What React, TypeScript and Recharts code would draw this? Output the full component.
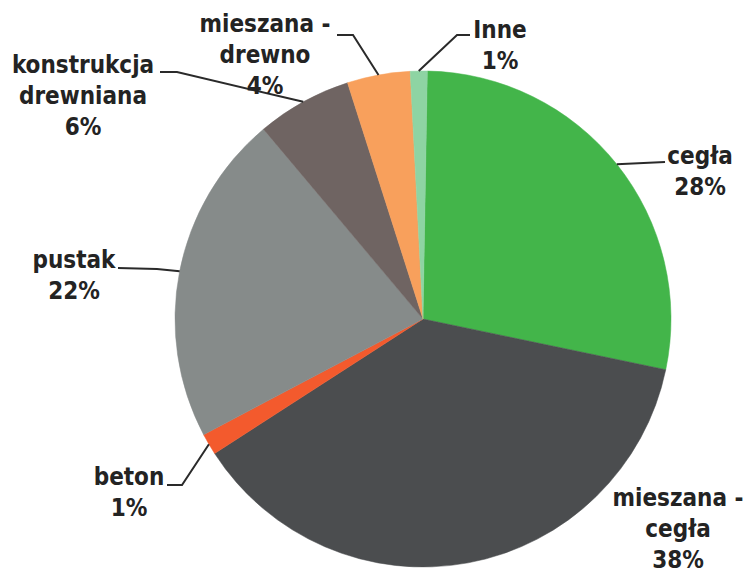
import { PieChart, Pie, Cell } from 'recharts'

const CATEGORIES = [
  'cegła',
  'mieszana - cegła',
  'beton',
  'pustak',
  'konstrukcja drewniana',
  'mieszana - drewno',
  'Inne',
]
const SHARES = [28.0, 37.6, 1.4, 21.6, 6.2, 4.1, 1.1]
const COLORS = ['#43b54a', '#4b4d4f', '#f35a2d', '#868b8a', '#6f6462', '#f8a05c', '#8ed4a3']

// label placement relative to pie centre: text block centre + baseline, optional leader (elbow, text end)
const LABEL_LAYOUT = [
  { tx: 277, ty: -155, elbow: [242, -157], end: [242, -157] },
  { tx: 255, ty: 187, elbow: null, end: null },
  { tx: -294, ty: 166, elbow: [-241, 166], end: [-256, 166] },
  { tx: -349, ty: -51, elbow: [-266, -50], end: [-305, -51] },
  { tx: -340, ty: -246, elbow: [-246, -247], end: [-263, -247] },
  { tx: -158, ty: -287, elbow: [-70, -284], end: [-86, -284] },
  { tx: 77, ty: -281, elbow: [34, -284], end: [47, -284] },
]

const data = CATEGORIES.map((name, i) => ({ name, value: SHARES[i] }))

const RADIAN = Math.PI / 180
const FONT = "'DejaVu Sans Condensed', 'DejaVu Sans', sans-serif"

function splitName(name: string) {
  if (name.includes(' - ')) {
    const [a, b] = name.split(' - ')
    return [a + ' -', b]
  }
  return name.split(' ')
}

function renderLabel(props: any) {
  const { cx, cy, midAngle, outerRadius, index, percent } = props
  const layout = LABEL_LAYOUT[index]
  if (!layout) return null
  const lines = [...splitName(CATEGORIES[index]), Math.round(percent * 100) + '%']
  const px = cx + outerRadius * Math.cos(-midAngle * RADIAN)
  const py = cy + outerRadius * Math.sin(-midAngle * RADIAN)
  return (
    <g key={'lbl' + index}>
      {layout.elbow && layout.end && (
        <polyline
          points={`${px},${py} ${cx + layout.elbow[0]},${cy + layout.elbow[1]} ${cx + layout.end[0]},${cy + layout.end[1]}`}
          fill="none"
          stroke="#2a2a2a"
          strokeWidth={2}
        />
      )}
      <text
        x={cx + layout.tx}
        y={cy + layout.ty}
        textAnchor="middle"
        fill="#232323"
        style={{ fontFamily: FONT, fontWeight: 'bold', fontSize: 24, fontStretch: 'condensed' }}
      >
        {lines.map((line, i) => (
          <tspan key={i} x={cx + layout.tx} dy={i === 0 ? 0 : 31}>
            {line}
          </tspan>
        ))}
      </text>
    </g>
  )
}

export default function App() {
  return (
    <div style={{ position: 'absolute', left: 0, top: 0, background: '#fff' }}>
      <PieChart width={748} height={573} margin={{ top: 0, right: 0, bottom: 0, left: 0 }}>
        <Pie
          data={data}
          dataKey="value"
          nameKey="name"
          cx={423}
          cy={319}
          outerRadius={248}
          startAngle={89}
          endAngle={-271}
          label={renderLabel}
          labelLine={false}
          isAnimationActive={false}
        >
          {data.map((d, i) => (
            <Cell key={d.name} fill={COLORS[i]} stroke={COLORS[i]} strokeWidth={0.5} />
          ))}
        </Pie>
      </PieChart>
    </div>
  )
}
